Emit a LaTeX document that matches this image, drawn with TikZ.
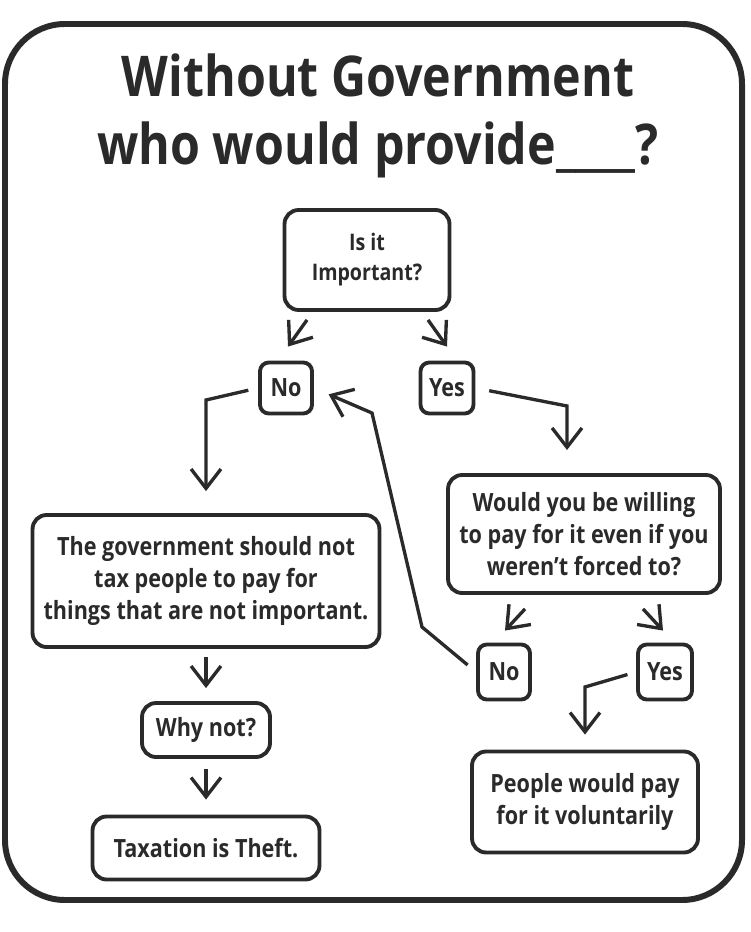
\documentclass[tikz,border=0pt]{standalone}
\usepackage{fontspec}
\setmainfont{Open Sans}[FakeStretch=0.86]
\usetikzlibrary{arrows.meta,calc}

\definecolor{ink}{HTML}{2A2A2A}

\tikzset{
  box/.style={draw=ink, line width=2.2pt, rounded corners=8pt, inner sep=0pt,
    align=center, text=ink, font=\bfseries\fontsize{14.3}{18}\selectfont},
  small/.style={box, rounded corners=5pt},
  title/.style={anchor=base, text=ink, font=\bfseries\fontsize{32}{38}\selectfont},
  arr/.style={draw=ink, line width=1.9pt, -{Straight Barb[length=11pt,width=17pt]}},
}

\begin{document}
\begin{tikzpicture}[x=0.02cm,y=-0.02cm]
\useasboundingbox (0,0) rectangle (750,932);

% outer frame
\draw[ink, line width=3.4pt, rounded corners=1.2cm] (5,24) rectangle (742,900);

% title
\node[title] (title1) at (378,97) {Without Government};
\node[title] (title2) at (378,165) {who would provide\_\_\_\_?};

% question boxes
\node[box, font=\bfseries\fontsize{13}{17}\selectfont, minimum width=3.3cm, minimum height=2cm] (imp) at (367,260) {Is it\\Important?};
\node[small, minimum width=1.04cm, minimum height=1.02cm] (no1) at (286,388) {No};
\node[small, minimum width=1.06cm, minimum height=1.02cm] (yes1) at (447,388) {Yes};

% left branch
\node[box, minimum width=6.94cm, minimum height=2.64cm] (gov) at (206,581)
  {The government should not\\tax people to pay for\\things that are not important.};
\node[box, minimum width=2.56cm, minimum height=1.08cm] (why) at (206,730) {Why not?};
\node[box, minimum width=4.54cm, minimum height=1.26cm] (tax) at (206,848) {Taxation is Theft.};

% right branch
\node[box, minimum width=5.44cm, minimum height=2.36cm] (wb) at (584,534)
  {Would you be willing\\to pay for it even if you\\weren't forced to?};
\node[small, minimum width=1.04cm, minimum height=1.1cm] (no2) at (504,672) {No};
\node[small, minimum width=1.08cm, minimum height=1.1cm] (yes2) at (665,672) {Yes};
\node[box, minimum width=4.52cm, minimum height=2.02cm] (ppl) at (585,802)
  {People would pay\\for it voluntarily};

\coordinate (yesdrop) at (567,450);

% answers to "Is it important?"
\draw[arr] ($(imp.south)+(-60,8)$) -- ($(no1.north)+(2,-14)$);
\draw[arr] ($(imp.south)+(61,8)$) -- ($(yes1.north)+(0,-14)$);
\draw[arr, shorten <=0.2cm, shorten >=0.44cm] (no1.west) -- (206,400) -- (gov.north);
\draw[arr, shorten <=0.28cm] (yes1.east) -- (567,406) -- (yesdrop);
\draw[arr, shorten <=0.16cm, shorten >=0.26cm] (gov) -- (why);
\draw[arr, shorten <=0.2cm, shorten >=0.3cm] (why) -- (tax);

% answers to "Would you be willing"
\draw[arr] ($(wb.south)+(-59,14)$) -- ($(no2.north)+(1,-12)$);
\draw[arr] ($(wb.south)+(59,14)$) -- ($(yes2.north)+(-2,-12)$);
\draw[arr, shorten <=0.22cm, shorten >=0.32cm] (no2.west) -- (422,627) -- (372,413) -- (no1.east);
\draw[arr, shorten <=0.18cm, shorten >=0.3cm] (yes2.west) -- (585,687) -- (ppl.north);
\end{tikzpicture}
\end{document}
